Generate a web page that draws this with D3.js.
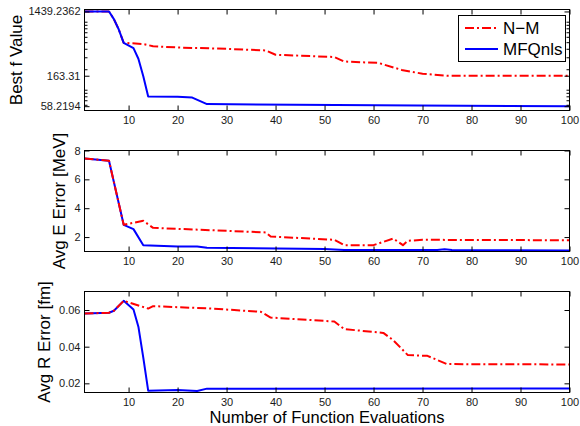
<!DOCTYPE html>
<html>
<head>
<meta charset="utf-8">
<script src="https://cdn.jsdelivr.net/npm/d3@7"></script>
<style>
  body { margin: 0; background: #fff; }
  svg { display: block; }
  text { font-family: "Liberation Sans", Arial, Helvetica, sans-serif; }
</style>
</head>
<body>
<svg width="580" height="426"></svg>
<script>
// evaluations (x) and values (y)
const bestF_NM_x = [1, 6, 7, 8, 9, 13, 15, 20, 30, 38, 40, 52, 54, 61, 66, 70, 75, 100];
const bestF_NM_y = [1439.2362, 1439.2362, 1110, 780, 498, 478, 443, 425, 406, 384, 332, 308, 264, 252, 196, 175, 163.31, 163.31];
const bestF_MFQ_x = [1, 6, 7, 8, 9, 11, 12, 13, 14, 20, 23, 26, 69, 100];
const bestF_MFQ_y = [1439.2362, 1439.2362, 1110, 780, 498, 415, 290, 160, 81, 80, 78, 62.5, 59.6, 58.2194];

const errE_NM_x = [1, 6, 9, 13, 15, 38, 39, 52, 54, 60, 64, 66, 67, 70, 100];
const errE_NM_y = [7.45, 7.29, 2.85, 3.13, 2.64, 2.32, 2.04, 1.81, 1.44, 1.44, 1.9, 1.44, 1.74, 1.81, 1.78];
const errE_MFQ_x = [1, 6, 9, 11, 13, 20, 24, 26, 50, 54, 73, 74.5, 76, 100];
const errE_MFQ_y = [7.45, 7.29, 2.85, 2.55, 1.44, 1.35, 1.35, 1.26, 1.17, 1.10, 1.10, 1.15, 1.10, 1.07];

const errR_NM_x = [1, 6, 7, 9, 14, 15, 27, 37, 39, 52, 54, 62, 64, 67, 71, 75, 100];
const errR_NM_y = [0.0581, 0.0585, 0.0596, 0.0650, 0.0608, 0.0621, 0.0608, 0.0590, 0.0559, 0.0537, 0.0496, 0.0475, 0.0436, 0.0354, 0.0350, 0.0305, 0.0303];
const errR_MFQ_x = [1, 6, 7, 9, 11, 12, 13, 14, 20, 24, 26, 100];
const errR_MFQ_y = [0.0581, 0.0585, 0.0596, 0.0650, 0.0603, 0.0509, 0.0340, 0.0160, 0.0164, 0.0158, 0.0171, 0.0172];

const xTicks = [10, 20, 30, 40, 50, 60, 70, 80, 90, 100];
const fTicks = [58.2194, 163.31, 1439.2362];
const fTickLabels = ['58.2194', '163.31', '1439.2362'];
const fMinorTicks = [60, 70, 80, 90, 100, 200, 300, 400, 500, 600, 700, 800, 900, 1000];
const eTicks = [2, 4, 6, 8];
const rTicks = [0.02, 0.04, 0.06];
const legendNames = ['N\u2212M', 'MFQnls'];

const svg = d3.select('svg');
const left = 84.5, right = 569.5, panelH = 101;
const tickLen = 5, tickFont = 11, labelFont = 17;
const red = '#ff0000', blue = '#0000ff';

const x = d3.scaleLinear().domain([1, 100]).range([left, right]);

const zip = (xs, ys) => xs.map((d, i) => [d, ys[i]]);

function drawPanel(cfg) {
  const { top, y, ticks, tickLabels, minor, title, titleX, series } = cfg;
  const bottom = top + panelH;
  const g = svg.append('g');

  // lines
  series.forEach((s) => {
    const line = d3.line().x((d) => x(d[0])).y((d) => y(d[1]));
    g.append('path')
      .datum(zip(s.xs, s.ys))
      .attr('d', line)
      .attr('fill', 'none')
      .attr('stroke', s.color)
      .attr('stroke-width', 2)
      .attr('stroke-linejoin', 'round')
      .attr('stroke-dasharray', s.dash || null);
  });

  // inward ticks on all four sides
  const bottomAxis = d3.axisBottom(x).tickValues(xTicks).tickSize(-tickLen).tickPadding(6);
  const topAxis = d3.axisTop(x).tickValues(xTicks).tickSize(-tickLen).tickFormat('');
  const leftAxis = d3.axisLeft(y).tickValues(ticks).tickSize(-tickLen).tickPadding(4);
  if (tickLabels) leftAxis.tickFormat((d, i) => tickLabels[i]);
  else leftAxis.tickFormat(d3.format('~g'));
  const rightAxis = d3.axisRight(y).tickValues(ticks).tickSize(-tickLen).tickFormat('');

  const axes = [
    [bottomAxis, `translate(0,${bottom})`],
    [topAxis, `translate(0,${top})`],
    [leftAxis, `translate(${left},0)`],
    [rightAxis, `translate(${right},0)`]
  ];
  axes.forEach(([ax, tr]) => {
    const a = g.append('g').attr('transform', tr).call(ax);
    a.select('.domain').remove();
    a.selectAll('line').attr('stroke', '#000');
    a.selectAll('text').attr('font-size', tickFont).attr('fill', '#1a1a1a')
      .attr('font-family', '"Liberation Sans", Arial, sans-serif');
  });

  if (minor) {
    minor.forEach((v) => {
      g.append('line').attr('x1', left).attr('x2', left + 3)
        .attr('y1', y(v)).attr('y2', y(v)).attr('stroke', '#000');
      g.append('line').attr('x1', right).attr('x2', right - 3)
        .attr('y1', y(v)).attr('y2', y(v)).attr('stroke', '#000');
    });
  }

  g.append('rect')
    .attr('x', left).attr('y', top)
    .attr('width', right - left).attr('height', panelH)
    .attr('fill', 'none').attr('stroke', '#000').attr('stroke-width', 1);

  svg.append('text')
    .attr('transform', `translate(${titleX},${top + panelH / 2}) rotate(-90)`)
    .attr('text-anchor', 'middle')
    .attr('font-size', labelFont)
    .text(title);
}

const dashNM = '9,3,2,3';

drawPanel({
  top: 9.5,
  y: d3.scaleLog().domain([50.3, 1538]).range([110.5, 9.5]),
  ticks: fTicks,
  tickLabels: fTickLabels,
  minor: fMinorTicks,
  title: 'Best f Value',
  titleX: 22,
  series: [
    { xs: bestF_NM_x, ys: bestF_NM_y, color: red, dash: dashNM },
    { xs: bestF_MFQ_x, ys: bestF_MFQ_y, color: blue }
  ]
});

drawPanel({
  top: 150.5,
  y: d3.scaleLinear().domain([1, 8]).range([251.5, 150.5]),
  ticks: eTicks,
  title: 'Avg E Error [MeV]',
  titleX: 64.5,
  series: [
    { xs: errE_MFQ_x, ys: errE_MFQ_y, color: blue },
    { xs: errE_NM_x, ys: errE_NM_y, color: red, dash: dashNM }
  ]
});

drawPanel({
  top: 291.5,
  y: d3.scaleLinear().domain([0.015, 0.0701]).range([392.5, 291.5]),
  ticks: rTicks,
  title: 'Avg R Error [fm]',
  titleX: 50,
  series: [
    { xs: errR_MFQ_x, ys: errR_MFQ_y, color: blue },
    { xs: errR_NM_x, ys: errR_NM_y, color: red, dash: dashNM }
  ]
});

svg.append('text')
  .attr('x', (left + right) / 2)
  .attr('y', 423)
  .attr('text-anchor', 'middle')
  .attr('font-size', 16.5)
  .text('Number of Function Evaluations');

// legend
const legend = svg.append('g');
legend.append('rect')
  .attr('x', 458.5).attr('y', 15.5).attr('width', 107).attr('height', 46)
  .attr('fill', '#fff').attr('stroke', '#000');
const legendColors = [red, blue];
const legendDash = [dashNM, null];
legendNames.forEach((name, i) => {
  const ly = 28 + i * 21;
  legend.append('line')
    .attr('x1', 465).attr('x2', 498).attr('y1', ly).attr('y2', ly)
    .attr('stroke', legendColors[i]).attr('stroke-width', 2)
    .attr('stroke-dasharray', legendDash[i]);
  legend.append('text')
    .attr('x', 503).attr('y', ly + 6)
    .attr('font-size', labelFont)
    .text(name);
});
</script>
</body>
</html>
